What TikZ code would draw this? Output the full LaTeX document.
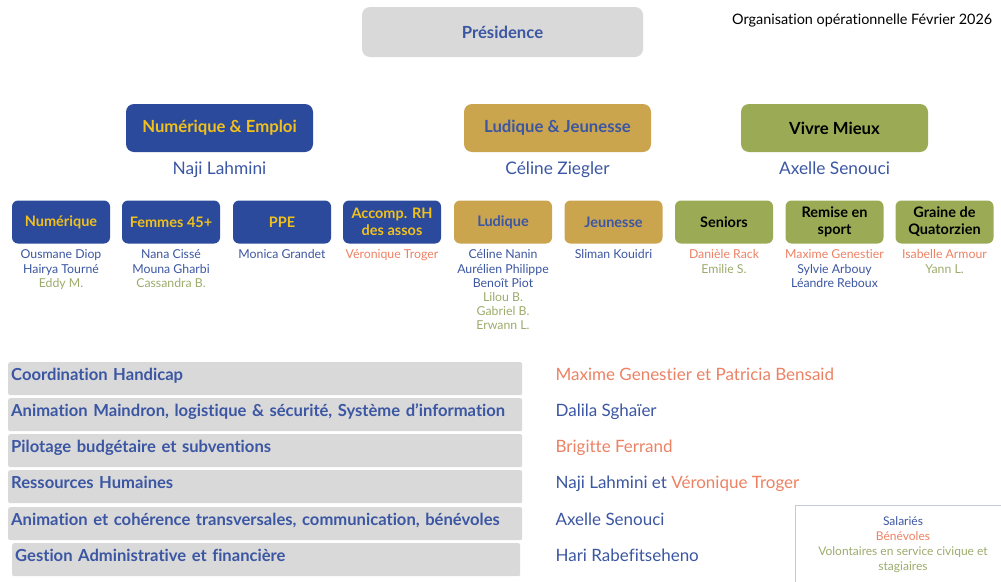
\documentclass[tikz,border=0pt]{standalone}
\usepackage{fontspec}
\setmainfont{Lato}[Ligatures={NoCommon}]
\usetikzlibrary{positioning}
\definecolor{deepblue}{HTML}{2B4A9B}
\definecolor{sunyellow}{HTML}{F0C01C}
\definecolor{ochre}{HTML}{CBA44E}
\definecolor{olive}{HTML}{9BAB55}
\definecolor{inkblue}{HTML}{3B56A2}
\definecolor{salmon}{HTML}{EC8163}
\definecolor{sage}{HTML}{9CAB6C}
\definecolor{softgray}{HTML}{D9D9D9}
\definecolor{framegray}{HTML}{C5CAD8}

\begin{document}
\begin{tikzpicture} [%
    x = 1pt,
    y = -1pt,
    node distance = 6pt,
    every node/.style = {inner sep = 0pt},
    pole/.style = {%
      rounded corners = 8pt,
      minimum width = 187pt,
      minimum height = 48pt,
      font = \bfseries\fontsize{16.7}{19}\selectfont },
    team/.style = {%
      rounded corners = 6pt,
      minimum width = 98pt,
      minimum height = 43pt,
      align = center,
      font = \bfseries\fontsize{14.5}{17}\selectfont },
    lead/.style = {text = inkblue, font = \fontsize{17.3}{20}\selectfont},
    who/.style = {align = center, font = \fontsize{12.3}{14.2}\selectfont},
    bar/.style = {%
      fill = softgray,
      rounded corners = 2pt,
      anchor = north west,
      minimum width = 514pt,
      minimum height = 33pt,
      inner xsep = 3pt,
      text width = 508pt,
      align = left,
      text height = 12pt,
      text depth = 9pt,
      text = inkblue,
      font = \bfseries\fontsize{16.6}{19}\selectfont },
    charge/.style = {%
      right = 33pt of #1,
      yshift = 3pt,
      text height = 12pt,
      text depth = 3pt,
      text = inkblue,
      font = \fontsize{17}{20}\selectfont }
  ]
  \useasboundingbox (0,0) rectangle (1001,581);

  % tete
  \node[pole, fill=softgray, minimum width=281pt, minimum height=50pt, text=inkblue]
    (P) at (502.5,32) {Présidence};
  \node[anchor=west, font=\fontsize{14.4}{16}\selectfont] (titre) at (732,21)
    {Organisation opérationnelle Février 2026};

  % poles
  \node[pole, fill=deepblue, text=sunyellow] (NE) at (219.5,128) {Numérique \& Emploi};
  \node[pole, fill=ochre, text=inkblue] (LJ) at (557.5,128) {Ludique \& Jeunesse};
  \node[pole, fill=olive, text=black] (VM) at (834.5,128) {Vivre Mieux};

  \node[lead] (nNE) [below=9pt of NE] {Naji Lahmini};
  \node[lead] (nLJ) [below=9pt of LJ] {Céline Ziegler};
  \node[lead] (nVM) [below=9pt of VM] {Axelle Senouci};

  % equipes
  \node[team, fill=deepblue, text=sunyellow] (T1) at (61,222) {Numérique};
  \node[team, fill=deepblue, text=sunyellow] (T2) at (171,222) {Femmes 45+};
  \node[team, fill=deepblue, text=sunyellow] (T3) at (282,222) {PPE};
  \node[team, fill=deepblue, text=sunyellow] (T4) at (392,222) {Accomp. RH\\des assos};
  \node[team, fill=ochre, text=inkblue] (T5) at (503,222) {Ludique};
  \node[team, fill=ochre, text=inkblue] (T6) at (613.5,222) {Jeunesse};
  \node[team, fill=olive, text=black] (T7) at (724,222) {Seniors};
  \node[team, fill=olive, text=black] (T8) at (834.5,222) {Remise en\\sport};
  \node[team, fill=olive, text=black] (T9) at (944.5,222) {Graine de\\Quatorzien};

  \node[who] (w1) [below=of T1] {\textcolor{inkblue}{Ousmane Diop}\\
    \textcolor{inkblue}{Hairya Tourné}\\\textcolor{sage}{Eddy M.}};
  \node[who] (w2) [below=of T2] {\textcolor{inkblue}{Nana Cissé}\\
    \textcolor{inkblue}{Mouna Gharbi}\\\textcolor{sage}{Cassandra B.}};
  \node[who, text=inkblue] (w3) [below=of T3] {Monica Grandet};
  \node[who, text=salmon] (w4) [below=of T4] {Véronique Troger};
  \node[who] (w5) [below=of T5] {\textcolor{inkblue}{Céline Nanin}\\
    \textcolor{inkblue}{Aurélien Philippe}\\\textcolor{inkblue}{Benoît Piot}\\
    \textcolor{sage}{Lilou B.}\\\textcolor{sage}{Gabriel B.}\\\textcolor{sage}{Erwann L.}};
  \node[who, text=inkblue] (w6) [below=of T6] {Sliman Kouidri};
  \node[who] (w7) [below=of T7] {\textcolor{salmon}{Danièle Rack}\\
    \textcolor{sage}{Emilie S.}};
  \node[who] (w8) [below=of T8] {\textcolor{salmon}{Maxime Genestier}\\
    \textcolor{inkblue}{Sylvie Arbouy}\\\textcolor{inkblue}{Léandre Reboux}};
  \node[who] (w9) [below=of T9] {\textcolor{salmon}{Isabelle Armour}\\
    \textcolor{sage}{Yann L.}};

  % missions transverses
  \node[bar] (B1) at (8,362) {Coordination Handicap};
  \node[bar] (B2) at (8,398) {Animation Maindron, logistique \& sécurité, Système d’information};
  \node[bar] (B3) at (8,434) {Pilotage budgétaire et subventions};
  \node[bar] (B4) at (8,470) {Ressources Humaines};
  \node[bar] (B5) at (8,507) {Animation et cohérence transversales, communication, bénévoles};
  \node[bar, minimum width=508pt, text width=502pt] (B6) at (12,543)
    {Gestion Administrative et financière};

  \node[charge=B1, text=salmon] (c1) {Maxime Genestier et Patricia Bensaid};
  \node[charge=B2] (c2) {Dalila Sghaïer};
  \node[charge=B3, text=salmon] (c3) {Brigitte Ferrand};
  \node[charge=B4] (c4) {Naji Lahmini et \textcolor{salmon}{Véronique Troger}};
  \node[charge=B5] (c5) {Axelle Senouci};
  \node[charge=B6, right=35pt of B6] (c6) {Hari Rabefitseheno};

  % legende
  \node[draw=framegray, semithick, minimum width=216pt, minimum height=80pt,
    align=center, font=\fontsize{12}{15}\selectfont] (L) at (903,545)
    {\textcolor{inkblue}{Salariés}\\\textcolor{salmon}{Bénévoles}\\
    \textcolor{sage}{Volontaires en service civique et}\\\textcolor{sage}{stagiaires}};
\end{tikzpicture}
\end{document}
